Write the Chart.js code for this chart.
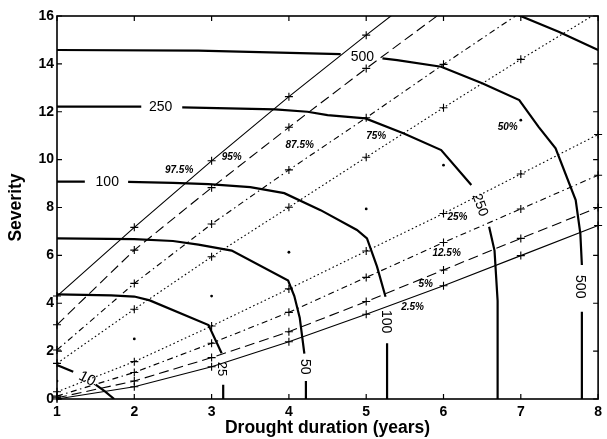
<!DOCTYPE html>
<html lang="en">
<head>
<meta charset="UTF-8">
<title>Drought severity vs duration</title>
<script src="https://cdn.jsdelivr.net/npm/chart.js"></script>
<style>
  html, body { margin: 0; padding: 0; background: #fff; }
</style>
</head>
<body>
<canvas id="myChart" width="607" height="439"></canvas>
<script>
// tick labels
const xTickValues = [1, 2, 3, 4, 5, 6, 7, 8];
const yTickValues = [0, 2, 4, 6, 8, 10, 12, 14, 16];

// percentile lines (severity at each duration)
const years = [1, 2, 3, 4, 5, 6, 7, 8];
const p975 = [4.3, 7.17, 9.95, 12.63, 15.2, 17.7, null, null];
const p95 = [3.1, 6.22, 8.83, 11.35, 13.81, 16.2, null, null];
const p875 = [2.05, 4.83, 7.31, 9.57, 11.75, 13.98, 16.15, null];
const p75 = [1.49, 3.75, 5.94, 8.01, 10.1, 12.17, 14.19, 16.15];
const p50 = [0.75, 2.51, 4.3, 6.13, 7.94, 9.77, 11.65, null];
const p25 = [0.3, 1.56, 3.05, 4.6, 6.18, 7.75, 9.4, 11.05];
const p125 = [0.12, 1.11, 2.33, 3.62, 5.08, 6.54, 7.94, 9.35];
const p5 = [0.05, 0.75, 1.73, 2.81, 4.07, 5.39, 6.71, 8.0];
const p25lo = [0.0, 0.51, 1.35, 2.39, 3.54, 4.73, 5.99, 7.25];

// return period contours (null = gap where the label sits)
const rp10X = [1, 1.21, null, 1.5, 1.62, 1.74];
const rp10Y = [1.42, 1.14, null, 0.6, 0.32, 0];
const rp25X = [1, 1.7, 2.0, 2.2, 2.96, 3.13, null, 3.15, 3.15];
const rp25Y = [4.37, 4.33, 4.28, 4.12, 3.09, 1.91, null, 0.6, 0];
const rp50X = [1, 2, 2.5, 2.83, 3.26, 3.99, 4.07, 4.14, 4.2, null, 4.22, 4.22];
const rp50Y = [6.71, 6.68, 6.6, 6.45, 6.2, 4.95, 4.3, 3.4, 1.9, null, 0.75, 0];
const rp100X = [1, 1.36, null, 1.92, 2.5, 2.96, 3.5, 3.94, 4.41, 4.88, 5.01, 5.14, 5.25, null, 5.27, 5.27];
const rp100Y = [9.08, 9.08, null, 9.07, 9.03, 8.98, 8.85, 8.6, 7.89, 7.06, 6.71, 5.53, 4.27, null, 2.33, 0];
const rp250X = [1, 2.09, null, 2.62, 3.82, 4.24, 4.5, 4.99, 5.48, 5.97, 6.36, null, 6.59, 6.66, 6.7, 6.7];
const rp250Y = [12.21, 12.21, null, 12.18, 12.1, 12.0, 11.86, 11.72, 11.1, 10.4, 8.94, null, 7.2, 6.2, 4.1, 0];
const rp500X = [1, 2.83, 4.67, null, 5.21, 5.4, 5.97, 6.5, 6.98, 7.23, 7.45, 7.71, 7.77, 7.79, null, 7.79, 7.79];
const rp500Y = [14.58, 14.55, 14.41, null, 14.23, 14.16, 13.88, 13.19, 12.49, 11.37, 10.47, 8.31, 6.92, 5.6, null, 3.65, 0];
const rp1000X = [6.9, 7.02, 7.49, 8];
const rp1000Y = [16.12, 15.97, 15.34, 14.58];

Chart.defaults.font.family = "'Liberation Sans', Arial, sans-serif";
Chart.defaults.color = '#000';

function pts(xs, ys) {
  return xs.map((v, i) => ({ x: v, y: ys[i] }));
}

function pctLine(ys, dash) {
  return {
    data: pts(years, ys),
    showLine: true,
    borderColor: '#000',
    borderWidth: 1.1,
    borderDash: dash,
    pointStyle: 'cross',
    pointRadius: c => (c.raw && c.raw.y != null && c.raw.y <= 16.05 ? 4 : 0),
    pointBorderColor: '#000',
    pointBorderWidth: 1.1,
    clip: { left: 6, right: 6, top: 0, bottom: 6 }
  };
}

function contour(xs, ys) {
  return {
    data: pts(xs, ys),
    showLine: true,
    borderColor: '#000',
    borderWidth: 2.2,
    pointRadius: 0,
    spanGaps: false
  };
}

const dashed = [10, 5];
const dashDot = [6, 3.5, 1.5, 3.5];
const dotted = [1.6, 2.6];

// labels placed on the chart, in data units
const LBL = "'Liberation Sans', Arial, sans-serif";
const notes = [
  { t: '97.5%', x: 2.58, y: 9.54, r: 0, f: 'italic bold 10px ' + LBL },
  { t: '95%', x: 3.26, y: 10.1, r: 0, f: 'italic bold 10px ' + LBL },
  { t: '87.5%', x: 4.14, y: 10.58, r: 0, f: 'italic bold 10px ' + LBL },
  { t: '75%', x: 5.13, y: 10.96, r: 0, f: 'italic bold 10px ' + LBL },
  { t: '50%', x: 6.83, y: 11.35, r: 0, f: 'italic bold 10px ' + LBL },
  { t: '25%', x: 6.18, y: 7.59, r: 0, f: 'italic bold 10px ' + LBL },
  { t: '12.5%', x: 6.04, y: 6.08, r: 0, f: 'italic bold 10px ' + LBL },
  { t: '5%', x: 5.77, y: 4.8, r: 0, f: 'italic bold 10px ' + LBL },
  { t: '2.5%', x: 5.6, y: 3.83, r: 0, f: 'italic bold 10px ' + LBL },
  { t: '10', x: 1.39, y: 0.84, r: 28, f: '15px ' + LBL },
  { t: '25', x: 3.13, y: 1.25, r: 90, f: '13px ' + LBL },
  { t: '50', x: 4.2, y: 1.35, r: 90, f: '14px ' + LBL },
  { t: '100', x: 1.65, y: 9.07, r: 0, f: '14px ' + LBL },
  { t: '100', x: 5.26, y: 3.23, r: 90, f: '14px ' + LBL },
  { t: '250', x: 2.34, y: 12.2, r: 0, f: '14px ' + LBL },
  { t: '250', x: 6.47, y: 8.1, r: 70, f: '14px ' + LBL },
  { t: '500', x: 4.95, y: 14.27, r: 0, f: '14px ' + LBL },
  { t: '500', x: 7.77, y: 4.69, r: 90, f: '14px ' + LBL }
];

const framePlugin = {
  id: 'framePlugin',
  afterDatasetsDraw(chart) {
    const { ctx, chartArea: a, scales: { x, y } } = chart;
    ctx.save();
    ctx.strokeStyle = '#000';
    ctx.lineWidth = 1.6;
    ctx.strokeRect(a.left, a.top, a.right - a.left, a.bottom - a.top);
    ctx.lineWidth = 1.2;
    ctx.beginPath();
    xTickValues.forEach(v => {
      const px = x.getPixelForValue(v);
      ctx.moveTo(px, a.bottom); ctx.lineTo(px, a.bottom - 5);
      ctx.moveTo(px, a.top); ctx.lineTo(px, a.top + 5);
    });
    yTickValues.forEach(v => {
      const py = y.getPixelForValue(v);
      ctx.moveTo(a.left, py); ctx.lineTo(a.left + 5, py);
      ctx.moveTo(a.right, py); ctx.lineTo(a.right - 5, py);
    });
    ctx.stroke();

    ctx.fillStyle = '#000';
    ctx.textAlign = 'center';
    ctx.textBaseline = 'middle';
    notes.forEach(n => {
      ctx.save();
      ctx.translate(x.getPixelForValue(n.x), y.getPixelForValue(n.y));
      ctx.rotate(n.r * Math.PI / 180);
      ctx.font = n.f;
      ctx.fillText(n.t, 0, 0);
      ctx.restore();
    });
    ctx.restore();
  }
};

const ctx = document.getElementById('myChart').getContext('2d');
const myChart = new Chart(ctx, {
  type: 'scatter',
  data: {
    datasets: [
      pctLine(p975, []),
      pctLine(p95, dashed),
      pctLine(p875, dashDot),
      pctLine(p75, dotted),
      {
        data: pts(years, p50),
        showLine: false,
        pointStyle: 'circle',
        pointRadius: 1.4,
        pointBackgroundColor: '#000',
        pointBorderWidth: 0
      },
      pctLine(p25, dotted),
      pctLine(p125, dashDot),
      pctLine(p5, dashed),
      pctLine(p25lo, []),
      contour(rp10X, rp10Y),
      contour(rp25X, rp25Y),
      contour(rp50X, rp50Y),
      contour(rp100X, rp100Y),
      contour(rp250X, rp250Y),
      contour(rp500X, rp500Y),
      contour(rp1000X, rp1000Y)
    ]
  },
  options: {
    responsive: false,
    devicePixelRatio: 1,
    animation: false,
    layout: { padding: { top: 16, right: 4, left: 0, bottom: 0 } },
    plugins: { legend: { display: false }, tooltip: { enabled: false } },
    scales: {
      x: {
        type: 'linear',
        min: 1,
        max: 8,
        afterBuildTicks: s => { s.ticks = xTickValues.map(v => ({ value: v })); },
        afterFit: s => { s.height = 40; },
        grid: { display: false, drawTicks: false },
        border: { display: false },
        ticks: { padding: 5, font: { size: 14, weight: 'bold' }, color: '#000' },
        title: {
          display: true,
          text: 'Drought duration (years)',
          font: { size: 17.5, weight: 'bold' },
          padding: { top: 0, bottom: 0 }
        }
      },
      y: {
        type: 'linear',
        min: 0,
        max: 16,
        afterBuildTicks: s => { s.ticks = yTickValues.map(v => ({ value: v })); },
        afterFit: s => { s.width = 57; },
        grid: { display: false, drawTicks: false },
        border: { display: false },
        ticks: { padding: 3, font: { size: 14, weight: 'bold' }, color: '#000' },
        title: {
          display: true,
          text: 'Severity',
          font: { size: 17.5, weight: 'bold' },
          padding: { top: 6, bottom: 0 }
        }
      }
    }
  },
  plugins: [framePlugin]
});
</script>
</body>
</html>
